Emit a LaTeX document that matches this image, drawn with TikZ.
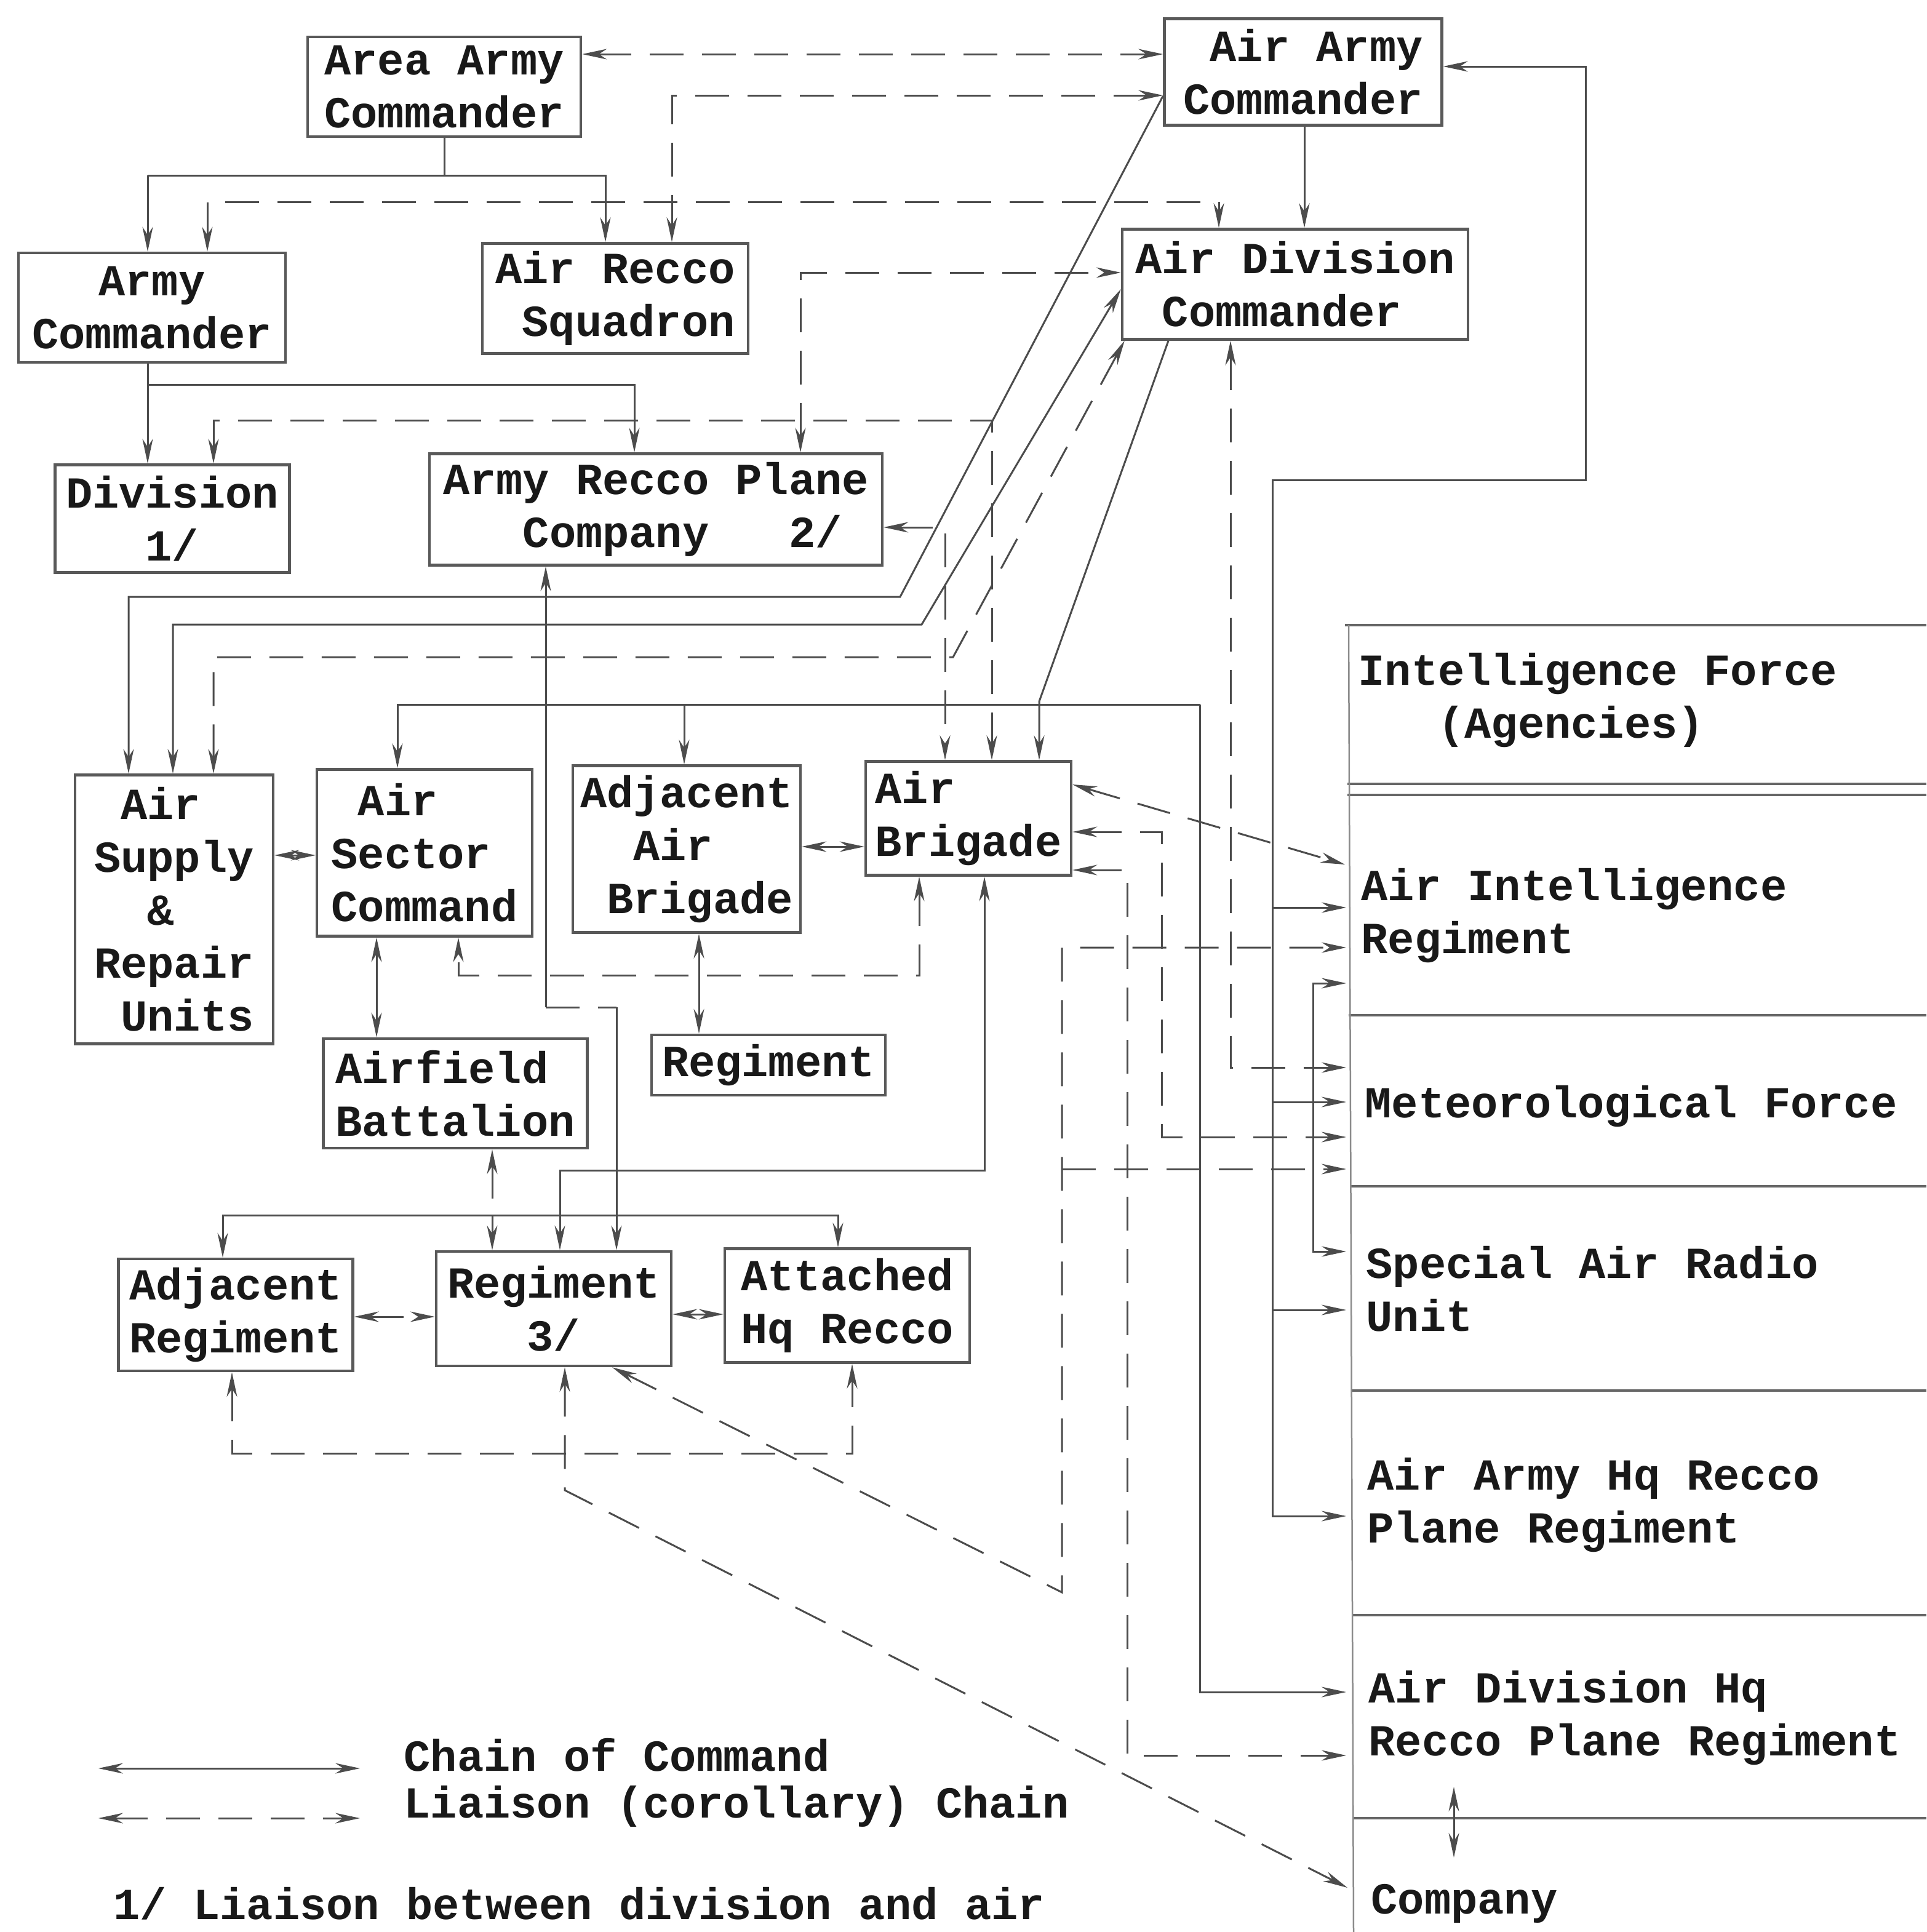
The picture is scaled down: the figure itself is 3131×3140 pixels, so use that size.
\documentclass[tikz,border=0pt]{standalone}
\usepackage{fontspec}
\setmainfont{Liberation Mono}
\usetikzlibrary{arrows.meta,calc}
\begin{document}
\begin{tikzpicture}[x=0.1mm,y=-0.1mm,
  >={Stealth[length=4mm,width=1.7mm]},
  txt/.style={font=\fontsize{20.5}{24.5}\selectfont\bfseries, text=black!90},
  box/.style={txt, draw=black!65, line width=0.45mm, inner sep=0pt},
  cmd/.style={draw=black!70, line width=0.3mm},
  lia/.style={cmd, dash pattern=on 5.5mm off 3mm},
  entry/.style={txt, anchor=west, align=left, inner sep=0pt},
  sepline/.style={draw=black!60, line width=0.4mm}]
\useasboundingbox (0,0) rectangle (3131,3140);
\fill[white] (0,0) rectangle (3131,3140);

% ---------------- boxes ----------------
\node[box, align=center, minimum width=44.4mm, minimum height=16.2mm] (areaarmy) at (722,141) {Area Army\\Commander};
\node[box, align=left, minimum width=45.1mm, minimum height=17.3mm] (airarmy) at (2118,117) {\phantom{0}Air Army\\Commander};
\node[box, align=center, minimum width=43.4mm, minimum height=17.8mm] (armycmd) at (247,500) {Army\\Commander};
\node[box, align=left, minimum width=43.2mm, minimum height=17.9mm] (airrecco) at (1000,485) {Air Recco\\\phantom{0}Squadron};
\node[box, align=left, minimum width=56.2mm, minimum height=17.9mm] (airdiv) at (2105,462) {Air Division\\\phantom{0}Commander};
\node[box, align=left, minimum width=38.1mm, minimum height=17.5mm] (division) at (280,843) {Division\\\phantom{000}1/};
\node[box, align=left, minimum width=73.6mm, minimum height=18.1mm] (arpc) at (1066,828) {Army Recco Plane\\\phantom{000}Company\phantom{000}2/};
\node[box, align=left, minimum width=32.2mm, minimum height=43.7mm] (airsupply) at (283,1478) {\phantom{0}Air\\Supply\\\phantom{00}\&\\Repair\\\phantom{0}Units};
\node[box, align=left, minimum width=35.0mm, minimum height=27.1mm] (airsector) at (690,1386) {\phantom{0}Air\\Sector\\Command};
\node[box, align=left, minimum width=37.0mm, minimum height=27.1mm] (adjairbrig) at (1116,1380) {Adjacent\\\phantom{00}Air\\\phantom{0}Brigade};
\node[box, align=left, minimum width=33.4mm, minimum height=18.5mm] (airbrig) at (1574,1330) {Air\\Brigade};
\node[box, align=left, minimum width=42.9mm, minimum height=17.8mm] (airfield) at (740,1777) {Airfield\\Battalion};
\node[box, align=center, minimum width=38.0mm, minimum height=9.8mm] (regmid) at (1249,1731) {Regiment};
\node[box, align=center, minimum width=38.1mm, minimum height=18.2mm] (adjreg) at (383,2137) {Adjacent\\Regiment};
\node[box, align=left, minimum width=38.2mm, minimum height=18.6mm] (reg3) at (900,2127) {Regiment\\\phantom{000}3/};
\node[box, align=center, minimum width=39.8mm, minimum height=18.5mm] (attached) at (1377,2122) {Attached\\Hq Recco};

% ---------------- right column (agencies) ----------------
\draw[sepline] (2186,1016) -- (3131,1016);
\draw[sepline] (2190,1274) -- (3131,1274);
\draw[sepline] (2190,1292) -- (3131,1292);
\draw[sepline] (2192,1650) -- (3131,1650);
\draw[sepline] (2194,1928) -- (3131,1928);
\draw[sepline] (2196,2260) -- (3131,2260);
\draw[sepline] (2198,2625) -- (3131,2625);
\draw[sepline] (2200,2955) -- (3131,2955);
\draw[draw=black!45, line width=0.25mm] (2192,1016) -- (2200,3140);

\node[entry] (intel) at (2207,1138) {Intelligence Force\\\phantom{000}(Agencies)};
\node[entry] (airint) at (2212,1488) {Air Intelligence\\Regiment};
\node[entry] (met) at (2218,1798) {Meteorological Force};
\node[entry] (sar) at (2220,2095) {Special Air Radio\\Unit};
\node[entry] (aahq) at (2222,2446) {Air Army Hq Recco\\Plane Regiment};
\node[entry] (adhq) at (2224,2792) {Air Division Hq\\Recco Plane Regiment};
\node[entry] (company) at (2228,3094) {Company};

% arrival points on the column edge
\coordinate (eAIR0) at (2186,1405);
\coordinate (eAIR1) at (2188,1475);
\coordinate (eAIR2) at (2188,1540);
\coordinate (eAIR3) at (2188,1598);
\coordinate (eMET1) at (2188,1735);
\coordinate (eMET2) at (2188,1791);
\coordinate (eMET3) at (2188,1848);
\coordinate (eMET4) at (2188,1900);
\coordinate (eSAR1) at (2188,2034);
\coordinate (eSAR2) at (2188,2129);
\coordinate (eAAHQ) at (2188,2464);
\coordinate (eADHQ1) at (2188,2750);
\coordinate (eADHQ2) at (2188,2853);
\coordinate (eCOMP) at (2190,3068);

% ---------------- connectors ----------------
% Area Army <-> Air Army
\coordinate (c1) at (1400,88);
\draw[lia,<->] (areaarmy.east |- c1) -- (airarmy.west |- c1);
% Air Army <-> Air Recco Squadron
\coordinate (c2) at (1092,155);
\draw[lia,<->] (airarmy.west |- c2) -- (c2) -- (c2 |- airrecco.north);
% Area Army -> Army Commander, Air Recco Squadron
\coordinate (c3) at (722,285);
\coordinate (c3a) at (240,285);
\coordinate (c3b) at (984,285);
\draw[cmd] (areaarmy.south) -- (c3);
\draw[cmd,->] (c3a) -- (c3a |- armycmd.north);
\draw[cmd,->] (c3a) -- (c3b) -- (c3b |- airrecco.north);
% Army Commander <-> Air Division Commander
\coordinate (c4a) at (337,328);
\coordinate (c4b) at (1981,328);
\draw[lia,<->] (c4a |- armycmd.north) -- (c4a) -- (c4b) -- (c4b |- airdiv.north);
% Air Army -> Air Division
\coordinate (c5) at (2120,0);
\draw[cmd,->] (c5 |- airarmy.south) -- (c5 |- airdiv.north);
% Air Army <-> Air Army Hq Recco Plane Regiment (with branches)
\coordinate (c6a) at (2577,108);
\coordinate (c6b) at (2577,780);
\coordinate (c6c) at (2068,780);
\draw[cmd,<->] (airarmy.east |- c6a) -- (c6a) -- (c6b) -- (c6c) -- (c6c |- eAAHQ) -- (eAAHQ);
\draw[cmd,->] (c6c |- eAIR1) -- (eAIR1);
\draw[cmd,->] (c6c |- eMET2) -- (eMET2);
\draw[cmd,->] (c6c |- eSAR2) -- (eSAR2);
% Air Intelligence Regiment <-> Special Air Radio Unit
\coordinate (br) at (2134,0);
\draw[cmd,<->] (eAIR3) -- (br |- eAIR3) -- (br |- eSAR1) -- (eSAR1);
% Air Division Commander <-> Meteorological Force
\coordinate (d1) at (2000,0);
\draw[lia,<->] (d1 |- airdiv.south) -- (d1 |- eMET1) -- (eMET1);
% Air Army -> Air Supply
\coordinate (l1a) at (1890,156);
\coordinate (l1b) at (1463,970);
\coordinate (l1c) at (209,970);
\draw[cmd,->] (airarmy.west |- l1a) -- (l1b) -- (l1c) -- (l1c |- airsupply.north);
% Air Division <-> Air Supply
\coordinate (l2a) at (1822,470);
\coordinate (l2b) at (1498,1015);
\coordinate (l2c) at (281,1015);
\draw[cmd,<->] (l2c |- airsupply.north) -- (l2c) -- (l2b) -- (airdiv.west |- l2a);
% Air Division <-> Air Supply (liaison)
\coordinate (l3b) at (1549,1068);
\coordinate (l3c) at (347,1068);
\draw[lia,<->] (l3c |- airsupply.north) -- (l3c) -- (l3b) -- ($(airdiv.south west)+(6,0)$);
% Air Division -> Air Brigade
\coordinate (l4a) at (1899,0);
\coordinate (l4b) at (1689,1140);
\draw[cmd,->] (l4a |- airdiv.south) -- (l4b) -- (l4b |- airbrig.north);
% Division <-> Air Brigade
\coordinate (l5a) at (347,683);
\coordinate (l5b) at (1612,683);
\draw[lia,<->] (l5a |- division.north) -- (l5a) -- (l5b) -- (l5b |- airbrig.north);
% Army Recco Plane Company <-> Air Brigade
\coordinate (l6) at (1536,857);
\draw[lia,<->] (arpc.east |- l6) -- (l6) -- (l6 |- airbrig.north);
% Army Recco Plane Company <-> Air Division
\coordinate (l7) at (1301,443);
\draw[lia,<->] (l7 |- arpc.north) -- (l7) -- (airdiv.west |- l7);
% Army Commander -> Division, Army Recco Plane Company
\coordinate (t1) at (240,625);
\coordinate (t2) at (1031,625);
\draw[cmd,->] (t1 |- armycmd.south) -- (t1 |- division.north);
\draw[cmd,->] (t1) -- (t2) -- (t2 |- arpc.north);
% Army Recco Plane Company <-> Regiment 3/
\coordinate (l8a) at (887,1637);
\coordinate (l8b) at (1002,1637);
\draw[cmd,<-] (l8a |- arpc.south) -- (l8a);
\draw[lia] (l8a) -- (l8b);
\draw[cmd,->] (l8b) -- (l8b |- reg3.north);
% Air Division Hq Recco Plane Regiment -> Air Sector Command, Adjacent Air Brigade
\coordinate (s1) at (646,1145);
\coordinate (s2) at (1950,1145);
\coordinate (s3) at (1112,1145);
\draw[cmd,->] (s2) -- (s1) -- (s1 |- airsector.north);
\draw[cmd,->] (s3) -- (s3 |- adjairbrig.north);
\draw[cmd,->] (s2) -- (s2 |- eADHQ1) -- (eADHQ1);
% small links
\coordinate (h1) at (0,1390);
\draw[lia,<->] (airsupply.east |- h1) -- (airsector.west |- h1);
\coordinate (h2) at (0,1376);
\draw[lia,<->] (adjairbrig.east |- h2) -- (airbrig.west |- h2);
\coordinate (v1) at (612,0);
\draw[cmd,<->] (v1 |- airsector.south) -- (v1 |- airfield.north);
\coordinate (v2) at (1136,0);
\draw[cmd,<->] (v2 |- adjairbrig.south) -- (v2 |- regmid.north);
% Air Brigade <-> Air Sector Command
\coordinate (b1) at (1494,1585);
\coordinate (b2) at (745,1585);
\draw[lia,<->] (b1 |- airbrig.south) -- (b1) -- (b2) -- (b2 |- airsector.south);
% Air Brigade <-> Regiment 3/
\coordinate (b3) at (1600,1902);
\coordinate (b4) at (910,1902);
\draw[cmd,<->] (b3 |- airbrig.south) -- (b3) -- (b4) -- (b4 |- reg3.north);
% Airfield Battalion -> regiments
\coordinate (f1) at (800,1975);
\coordinate (f2) at (362,1975);
\coordinate (f3) at (1362,1975);
\draw[lia,<-] (f1 |- airfield.south) -- (f1);
\draw[cmd,->] (f1) -- (f1 |- reg3.north);
\draw[cmd,->] (f1) -- (f2) -- (f2 |- adjreg.north);
\draw[cmd,->] (f1) -- (f3) -- (f3 |- attached.north);
% regiment row
\coordinate (r1) at (0,2140);
\draw[lia,<->] (adjreg.east |- r1) -- (reg3.west |- r1);
\coordinate (r2) at (0,2136);
\draw[lia,<->] (reg3.east |- r2) -- (attached.west |- r2);
\coordinate (r3) at (377,2362);
\coordinate (r4) at (1385,2362);
\draw[lia,<->] (r3 |- adjreg.south) -- (r3) -- (r4) -- (r4 |- attached.south);
% Regiment 3/ <-> Company
\coordinate (k1) at (918,2422);
\draw[lia,<->] (k1 |- reg3.south) -- (k1) -- (eCOMP);
% Regiment 3/ <-> Air Intelligence Regiment, Meteorological Force
\coordinate (m0) at (995,0);
\coordinate (m1) at (1726,2588);
\draw[lia,<->] (m0 |- reg3.south) -- (m1) -- (m1 |- eAIR2) -- (eAIR2);
\draw[lia,->] (m1 |- eMET4) -- (eMET4);
% Air Brigade -> right column
\coordinate (a0) at (1744,1275);
\draw[lia,<->] (airbrig.east |- a0) -- (eAIR0);
\coordinate (a1) at (1888,1352);
\draw[lia,<->] (airbrig.east |- a1) -- (a1) -- (a1 |- eMET3) -- (eMET3);
\coordinate (a2) at (1832,1414);
\draw[lia,<->] (airbrig.east |- a2) -- (a2) -- (a2 |- eADHQ2) -- (eADHQ2);
% Air Division Hq Recco Plane Regiment <-> Company
\coordinate (ud1) at (2363,2904);
\coordinate (ud2) at (2363,3019);
\draw[cmd,<->] (ud1) -- (ud2);

% ---------------- legend ----------------
\coordinate (lg1a) at (160,2874);
\coordinate (lg1b) at (585,2874);
\draw[cmd,<->] (lg1a) -- (lg1b);
\node[entry] (lgt1) at (656,2852) {Chain of Command};
\coordinate (lg2a) at (160,2955);
\coordinate (lg2b) at (585,2955);
\draw[lia,<->] (lg2a) -- (lg2b);
\node[entry] (lgt2) at (656,2936) {Liaison (corollary) Chain};
\node[entry] (note) at (184,3094) {1/ Liaison between division and air};
\end{tikzpicture}
\end{document}
